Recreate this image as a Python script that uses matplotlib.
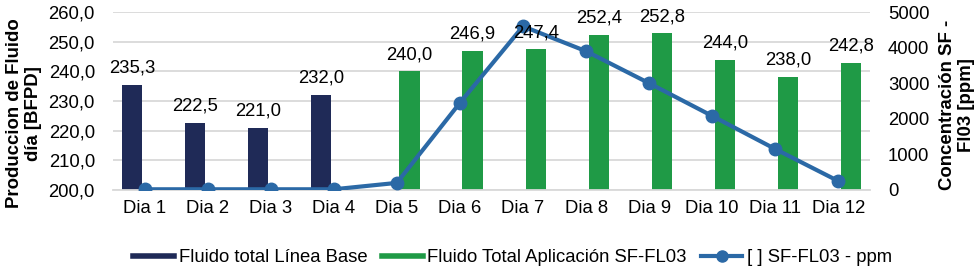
import matplotlib.pyplot as plt
from matplotlib.ticker import FuncFormatter
from matplotlib.lines import Line2D
import numpy as np

plt.rcParams['font.family'] = ['Liberation Sans', 'DejaVu Sans']

dias = ['Dia 1', 'Dia 2', 'Dia 3', 'Dia 4', 'Dia 5', 'Dia 6',
        'Dia 7', 'Dia 8', 'Dia 9', 'Dia 10', 'Dia 11', 'Dia 12']
base = [235.3, 222.5, 221.0, 232.0]
aplicacion = [240.0, 246.9, 247.4, 252.4, 252.8, 244.0, 238.0, 242.8]
ppm = [20, 20, 20, 20, 200, 2450, 4600, 3900, 3000, 2080, 1150, 250]

navy = '#1f2a57'
green = '#1f9a46'
blue = '#2b69a6'
fs = 13.3

fig = plt.figure(figsize=(9.8, 2.7), dpi=100)
ax = fig.add_axes([0.1153, 0.2963, 0.7724, 0.659])
x = np.arange(len(dias))
w = 0.32
off = 0.2

b1 = ax.bar(x[:4] - off, base, w, color=navy, zorder=2)
b2 = ax.bar(x[4:] + off, aplicacion, w, color=green, zorder=2)

ax.set_ylim(200, 260)
ax.set_yticks(np.arange(200, 261, 10))
ax.yaxis.set_major_formatter(FuncFormatter(lambda v, p: f'{v:.1f}'.replace('.', ',')))
ax.set_xlim(-0.5, len(dias) - 0.5)
ax.set_xticks(x)
ax.set_xticklabels(dias)
ax.grid(axis='y', color='#d9d9d9', lw=1.3, zorder=0)
for s in ['top', 'right', 'left']:
    ax.spines[s].set_visible(False)
ax.spines['bottom'].set_color('#d9d9d9')
ax.spines['bottom'].set_linewidth(1.3)
ax.tick_params(axis='y', length=0, labelsize=fs, pad=13)
ax.tick_params(axis='x', length=0, labelsize=fs, pad=7)
ax.set_ylabel('Produccion de Fluido\ndía [BFPD]', fontsize=13.4, fontweight='bold',
              linespacing=1.15)
ax.yaxis.set_label_coords(-0.0938, 0.43)

ax2 = ax.twinx()
ax2.plot(x, ppm, color=blue, lw=3, marker='o', ms=9, zorder=3)
ax2.set_ylim(0, 5000)
ax2.set_yticks(np.arange(0, 5001, 1000))
for s in ax2.spines.values():
    s.set_visible(False)
ax2.tick_params(length=0, labelsize=fs, pad=13)
ax2.set_ylabel('Concentración SF -\nFl03 [ppm]', fontsize=13.4, fontweight='bold',
               linespacing=1.15)
ax2.yaxis.set_label_coords(1.091, 0.48)

# value labels drawn on top of the line
for bars, vals in ((b1, base), (b2, aplicacion)):
    for r, v in zip(bars, vals):
        ax2.annotate(f'{v:.1f}'.replace('.', ','),
                     (r.get_x() + r.get_width() / 2, v), xycoords=ax.transData,
                     xytext=(0, 6), textcoords='offset points',
                     ha='center', va='bottom', fontsize=fs, zorder=5)

handles = [Line2D([], [], color=navy, lw=4),
           Line2D([], [], color=green, lw=4),
           Line2D([], [], color=blue, lw=3, marker='o', ms=8)]
labels = ['Fluido total Línea Base', 'Fluido Total Aplicación SF-FL03', '[ ] SF-FL03 - ppm']
fig.legend(handles, labels, loc='center', ncol=3, frameon=False, fontsize=fs,
           bbox_to_anchor=(0.523, 0.045), handlelength=2.2,
           handletextpad=0.25, columnspacing=0.8)

fig.savefig('out.png', dpi=100)
